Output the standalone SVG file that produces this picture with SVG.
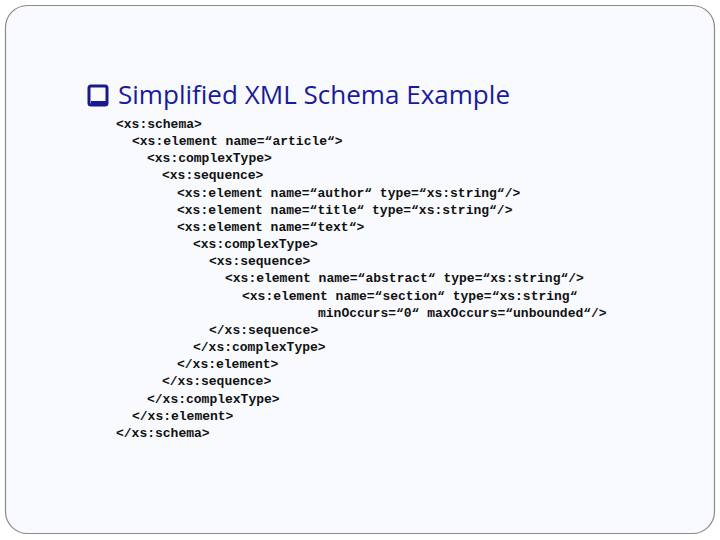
<svg xmlns="http://www.w3.org/2000/svg" width="720" height="540" viewBox="0 0 720 540">
<style>
.c{font-family:"Liberation Mono",monospace;font-size:13px;font-weight:bold;fill:#111}
</style>
<rect width="720" height="540" fill="#fff"/>
<rect x="5.5" y="5.5" width="709" height="528" rx="22" fill="#f8fafd" stroke="#8a8a8a" stroke-width="1.2"/>
<g id="title">
<rect x="89" y="86" width="18" height="19" rx="2" fill="none" stroke="#1a1a8c" stroke-width="3"/>
<rect x="91" y="101" width="16" height="4" fill="#1a1a8c"/>
<text x="118" y="104" font-family="Open Sans, sans-serif" font-size="25" fill="#1a1a9a" textLength="392" lengthAdjust="spacingAndGlyphs">Simplified XML Schema Example</text>
</g>
<g id="code">
<text class="c" x="116" y="128">&lt;xs:schema&gt;</text>
<text class="c" x="132" y="145">&lt;xs:element name=“article“&gt;</text>
<text class="c" x="147" y="162">&lt;xs:complexType&gt;</text>
<text class="c" x="162" y="179">&lt;xs:sequence&gt;</text>
<text class="c" x="177" y="197">&lt;xs:element name=“author“ type=“xs:string“/&gt;</text>
<text class="c" x="177" y="214">&lt;xs:element name=“title“ type=“xs:string“/&gt;</text>
<text class="c" x="177" y="231">&lt;xs:element name=“text“&gt;</text>
<text class="c" x="193" y="248">&lt;xs:complexType&gt;</text>
<text class="c" x="209" y="265">&lt;xs:sequence&gt;</text>
<text class="c" x="225" y="282">&lt;xs:element name=“abstract“ type=“xs:string“/&gt;</text>
<text class="c" x="242" y="300">&lt;xs:element name=“section“ type=“xs:string“</text>
<text class="c" x="318" y="317">minOccurs=“0“ maxOccurs=“unbounded“/&gt;</text>
<text class="c" x="209" y="334">&lt;/xs:sequence&gt;</text>
<text class="c" x="193" y="351">&lt;/xs:complexType&gt;</text>
<text class="c" x="177" y="368">&lt;/xs:element&gt;</text>
<text class="c" x="162" y="385">&lt;/xs:sequence&gt;</text>
<text class="c" x="147" y="403">&lt;/xs:complexType&gt;</text>
<text class="c" x="132" y="420">&lt;/xs:element&gt;</text>
<text class="c" x="116" y="437">&lt;/xs:schema&gt;</text>
</g>
</svg>
